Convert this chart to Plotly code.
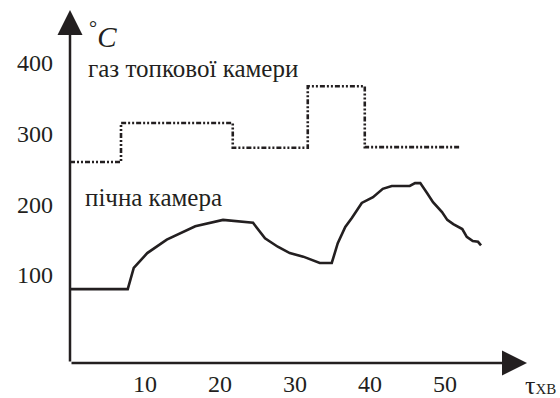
import plotly.graph_objects as go

# Gas in the firebox chamber (step curve)
gas_t = [0, 6.8, 6.8, 21.7, 21.7, 31.7, 31.7, 39.3, 39.3, 52.1]
gas_T = [260, 260, 315, 315, 280, 280, 367, 367, 281, 281]

# Furnace chamber
furn_t = [0, 7.7, 8.5, 10.3, 12.9, 16.7, 20.4, 24.4, 26.0, 27.7, 29.3, 31.1, 33.3, 34.9,
          35.7, 36.7, 37.6, 38.9, 40.4, 41.7, 42.9, 45.3, 46.0, 46.7, 47.6, 48.4, 49.6,
          50.3, 51.1, 52.3, 52.9, 53.7, 54.4, 54.8]
furn_T = [80, 80, 110, 131, 150, 169, 178, 174, 152, 140, 131, 126, 117, 117,
          145, 168, 181, 202, 210, 222, 226, 226, 230, 230, 216, 203, 189,
          178, 172, 165, 154, 148, 147, 142]

x_ticks = [10, 20, 30, 40, 50]
y_ticks = [100, 200, 300, 400]

x_range = [-2.0, 60.93]
y_range = [-24.5, 475]

ink = "#231f20"
serif = "Liberation Serif"

fig = go.Figure()
fig.add_trace(go.Scatter(x=gas_t, y=gas_T, mode="lines",
                         line=dict(color=ink, width=2.6, dash="5px,2px,2px,2px,2px,2px"),
                         hoverinfo="skip"))
fig.add_trace(go.Scatter(x=furn_t, y=furn_T, mode="lines",
                         line=dict(color=ink, width=2.6), hoverinfo="skip"))

annotations = [
    # axes with arrows
    dict(x=0, y=y_range[1], ax=0, ay=y_range[0], xref="x", yref="y", axref="x", ayref="y",
         showarrow=True, arrowhead=2, arrowsize=2.0, arrowwidth=2.5, arrowcolor=ink, text=""),
    dict(x=x_range[1], y=y_range[0], ax=0, ay=y_range[0], xref="x", yref="y", axref="x", ayref="y",
         showarrow=True, arrowhead=2, arrowsize=2.0, arrowwidth=2.5, arrowcolor=ink, text=""),
    dict(x=2.2, y=440, xref="x", yref="y", showarrow=False, xanchor="left", yanchor="middle",
         text="<sup style='font-size:15px'>°</sup><i>C</i>", font=dict(family=serif, size=29, color=ink)),
    dict(x=2.1, y=392, xref="x", yref="y", showarrow=False, xanchor="left", yanchor="middle",
         text="газ топкової камери", font=dict(family=serif, size=25, color=ink)),
    dict(x=1.75, y=210, xref="x", yref="y", showarrow=False, xanchor="left", yanchor="middle",
         text="пічна камера", font=dict(family=serif, size=25, color=ink)),
    dict(x=1.0, y=0, xref="paper", yref="paper", xshift=30, yshift=-22, showarrow=False,
         xanchor="right", yanchor="middle", borderpad=0,
         text="τ<span style='font-size:15px'>ХВ</span>", font=dict(family=serif, size=26, color=ink)),
]

fig.update_layout(
    width=560, height=398,
    margin=dict(l=55, r=33, t=10, b=35),
    paper_bgcolor="white", plot_bgcolor="white",
    showlegend=False,
    annotations=annotations,
    font=dict(family=serif, size=24, color=ink),
)
fig.update_xaxes(range=x_range, tickvals=x_ticks, showgrid=False, zeroline=False,
                 showline=False, ticks="", ticklabelstandoff=4, automargin=False,
                 tickfont=dict(family=serif, size=24, color=ink))
fig.update_yaxes(range=y_range, tickvals=y_ticks, showgrid=False, zeroline=False,
                 showline=False, ticks="", ticklabelstandoff=1, automargin=False,
                 tickfont=dict(family=serif, size=24, color=ink))

fig.write_html("out.html")
